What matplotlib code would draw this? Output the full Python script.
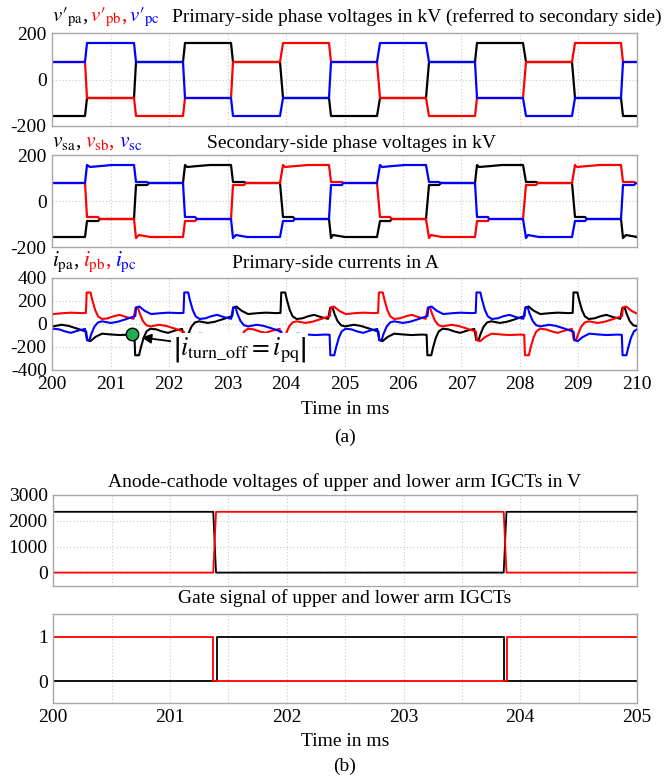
import numpy as np
import matplotlib
matplotlib.use("Agg")
import matplotlib.pyplot as plt

plt.rcParams['font.family'] = ['Liberation Serif', 'DejaVu Serif']
plt.rcParams['mathtext.fontset'] = 'stix'
plt.rcParams['font.size'] = 14
plt.rcParams['axes.unicode_minus'] = False

# ---- (a) six-step voltages: switching instants in ms, levels in kV between them
step_t = [200.58, 201.42, 202.25, 203.08, 203.92, 204.75,
          205.58, 206.42, 207.25, 208.08, 208.92, 209.75]
vpa = [-157, -78, 78, 157, 78, -78, -157, -78, 78, 157, 78, -78, -157]
vpb = [78, -78, -157, -78, 78, 157, 78, -78, -157, -78, 78, 157, 78]
vpc = [78, 157, 78, -78, -157, -78, 78, 157, 78, -78, -157, -78, 78]

vsa = [-156, -79, 79, 155, 79, -79, -156, -79, 79, 155, 79, -79, -156]
vsb = [79, -79, -156, -79, 79, 155, 79, -79, -156, -79, 79, 155, 79]
vsc = [79, 155, 79, -79, -156, -79, 79, 155, 79, -79, -156, -79, 79]
# settling deviation right after each step on the secondary side
dev_a = [0, -7, -11, -9, 4, 12, 8, -7, -11, -9, 4, 12, 8]
dev_b = [0, 12, 8, -7, -11, -9, 4, 12, 8, -7, -11, -9, 4]
dev_c = [0, -9, 4, 12, 8, -7, -11, -9, 4, 12, 8, -7, -11]

# primary current of phase a over one 5 ms period (tau from its first step)
cur_tau = [0.0, 0.015, 0.07, 0.16, 0.27, 0.42, 0.57, 0.75, 0.825, 0.838, 0.905, 0.933,
           0.983, 1.033, 1.10, 1.2, 1.3, 1.4, 1.52, 1.64, 1.675, 1.715, 1.75, 1.8,
           1.86, 1.93, 2.08, 2.2, 2.35, 2.45, 2.5,
           2.515, 2.57, 2.66, 2.77, 2.92, 3.07, 3.25, 3.325, 3.338, 3.405, 3.433,
           3.483, 3.533, 3.60, 3.7, 3.8, 3.9, 4.02, 4.14, 4.175, 4.215, 4.25, 4.3,
           4.36, 4.43, 4.58, 4.7, 4.85, 4.95, 5.0]
cur_a = [-68, -142, -150, -113, -85, -92, -97, -93, -95, -272, -272, -210,
         -120, -65, -42, -48, -66, -78, -58, -44, -140, -140, -85, -25,
         12, 22, 8, 18, 42, 60, 68,
         142, 150, 113, 85, 92, 97, 93, 95, 272, 272, 210,
         120, 65, 42, 48, 66, 78, 58, 44, 140, 140, 85, 25,
         -12, -22, -8, -18, -42, -60, -68]
cur_period = 5.0
cur_origin = {'pa': 200.58, 'pb': 202.25, 'pc': 203.92}

turnoff_t, turnoff_i = 201.37, -92
arrow_tip = (201.53, -118)

# ---- (b) IGCT anode-cathode voltage (V) and gate signals
vak_t = [200.0, 201.370, 201.394, 203.858, 203.882, 205.0]
vak_upper = [2350, 2350, 0, 0, 2350, 2350]
vak_lower = [0, 0, 2350, 2350, 0, 0]
gate_up_t = [200.0, 201.405, 201.405, 203.857, 203.857, 205.0]
gate_upper = [0, 0, 1, 1, 0, 0]
gate_lo_t = [200.0, 201.371, 201.371, 203.886, 203.886, 205.0]
gate_lower = [1, 1, 0, 0, 1, 1]

BLK, RED, BLU = '#000000', '#ff0000', '#0000ff'
W, H = 665, 776


def step_wave(levels, ramp=0.04):
    t, v = [200.0], [levels[0]]
    for T, prev, new in zip(step_t, levels[:-1], levels[1:]):
        t += [T - ramp / 2, T + ramp / 2]
        v += [prev, new]
    t.append(210.0)
    v.append(levels[-1])
    return t, v


def sec_wave(levels, dev):
    t, v = [200.0], [levels[0]]
    for k, T in enumerate(step_t):
        prev, new, d = levels[k], levels[k + 1], dev[k + 1]
        t += [T - 0.02, T + 0.02]
        if abs(new) > 120:
            v += [prev, new - 0.4 * d]
            t += [T + 0.06, T + 0.25, T + 0.45]
            v += [new + d, new + 0.3 * d, new]
        else:
            v += [prev, new + d]
            t += [T + 0.2, T + 0.23]
            v += [new + d, new]
    t.append(210.0)
    v.append(levels[-1])
    return t, v


def cur_wave(origin):
    t, v = [], []
    for n in (-1, 0, 1):
        t += [origin + n * cur_period + x for x in cur_tau]
        v += cur_a
    return t, v


def fig_ax(left, top, right, bottom):
    return fig.add_axes([left / W, 1 - bottom / H, (right - left) / W, (bottom - top) / H])


def style(ax):
    for s in ax.spines.values():
        s.set_color('#a8a8a8')
        s.set_linewidth(1.0)
    ax.tick_params(length=0, pad=4, labelsize=14)
    ax.grid(True, which='both', linestyle=(0, (1, 2)), color='#c8c8c8', linewidth=0.8)
    ax.set_axisbelow(True)


def ftext(x, y, s, **kw):
    return fig.text(x / W, 1 - y / H, s, **kw)


def color_label(x, y, parts, size=15.5, gap=4):
    # lay the coloured symbols out one after another
    r = fig.canvas.get_renderer()
    for s, c in parts:
        t = ftext(x, y, s, color=c, fontsize=size, ha='left', va='center')
        bb = t.get_window_extent(r)
        x = bb.x1 + gap


fig = plt.figure(figsize=(W / 100, H / 100), dpi=100)

ax1 = fig_ax(52.3, 33.3, 636.7, 126)
ax2 = fig_ax(52.3, 155, 636.7, 247.3)
ax3 = fig_ax(52.3, 277.7, 636.7, 370)
ax4 = fig_ax(53.3, 495, 637, 585.5)
ax5 = fig_ax(53.3, 614.3, 637, 703.3)

for levels, col in zip((vpa, vpb, vpc), (BLK, RED, BLU)):
    ax1.plot(*step_wave(levels), color=col, lw=1.6, snap=True)
for levels, dev, col in zip((vsa, vsb, vsc), (dev_a, dev_b, dev_c), (BLK, RED, BLU)):
    ax2.plot(*sec_wave(levels, dev), color=col, lw=1.6, snap=True)
for ph, col in zip(('pa', 'pb', 'pc'), (BLK, RED, BLU)):
    ax3.plot(*cur_wave(cur_origin[ph]), color=col, lw=1.5)

for ax in (ax1, ax2, ax3):
    style(ax)
    ax.set_xlim(200, 210)
    ax.set_xticks(np.arange(200, 211, 1))
for ax in (ax1, ax2):
    ax.set_ylim(-200, 200)
    ax.set_yticks([-200, 0, 200])
    ax.set_xticklabels([])
ax3.set_ylim(-400, 400)
ax3.set_yticks([-400, -200, 0, 200, 400])

ax3.plot([turnoff_t], [turnoff_i], 'o', ms=9, mfc='#1fae4b', mec='k', mew=1.0, zorder=7)
ax3.annotate(r'$\left|i_{\mathrm{turn\_off}} = i_{\mathrm{pq}}\right|$', xy=arrow_tip,
             xytext=(202.07, -228), ha='left', va='center', fontsize=18.5, zorder=6,
             bbox=dict(boxstyle='square,pad=0.08', fc='white', ec='none'),
             arrowprops=dict(arrowstyle='-|>', color='k', lw=1.3, mutation_scale=14,
                             shrinkA=0, shrinkB=0))

# (b)
ax4.plot(vak_t, vak_upper, color=BLK, lw=1.3)
ax4.plot(vak_t, vak_lower, color=RED, lw=1.3)
ax5.plot(gate_up_t, gate_upper, color=BLK, lw=1.3)
ax5.plot(gate_lo_t, gate_lower, color=RED, lw=1.3)
for ax in (ax4, ax5):
    style(ax)
    ax.set_xlim(200, 205)
    ax.set_xticks(np.arange(200, 206, 1))
    ax.set_xticks(np.arange(200.5, 205, 1), minor=True)
    ax.tick_params(which='minor', length=0)
ax4.set_ylim(-500, 3000)
ax4.set_yticks([0, 1000, 2000, 3000])
ax4.set_xticklabels([])
ax5.set_ylim(-0.5, 1.5)
ax5.set_yticks([0, 1])

# texts
ftext(172, 17, 'Primary-side phase voltages in kV (referred to secondary side)', ha='left', va='center')
ftext(206.7, 143, 'Secondary-side phase voltages in kV', ha='left', va='center')
ftext(231.7, 263, 'Primary-side currents in A', ha='left', va='center')
color_label(52, 17, [("$v\u2032_{\\mathrm{pa}}$,", BLK), ("$v\u2032_{\\mathrm{pb}}$,", RED),
                     ("$v\u2032_{\\mathrm{pc}}$", BLU)], size=15, gap=2)
color_label(52, 142, [(r"$v_{\mathrm{sa}}$,", BLK), (r"$v_{\mathrm{sb}}$,", RED), (r"$v_{\mathrm{sc}}$", BLU)])
color_label(52, 262, [(r"$i_{\mathrm{pa}}$,", BLK), (r"$i_{\mathrm{pb}}$,", RED), (r"$i_{\mathrm{pc}}$", BLU)])
ftext(345, 410, 'Time in ms', ha='center', va='center')
ftext(345, 437, '(a)', ha='center', va='center')
ftext(345, 482, 'Anode-cathode voltages of upper and lower arm IGCTs in V', ha='center', va='center')
ftext(345, 598, 'Gate signal of upper and lower arm IGCTs', ha='center', va='center')
ftext(345, 742, 'Time in ms', ha='center', va='center')
ftext(345, 766, '(b)', ha='center', va='center')

fig.savefig('out.png', dpi=100)
